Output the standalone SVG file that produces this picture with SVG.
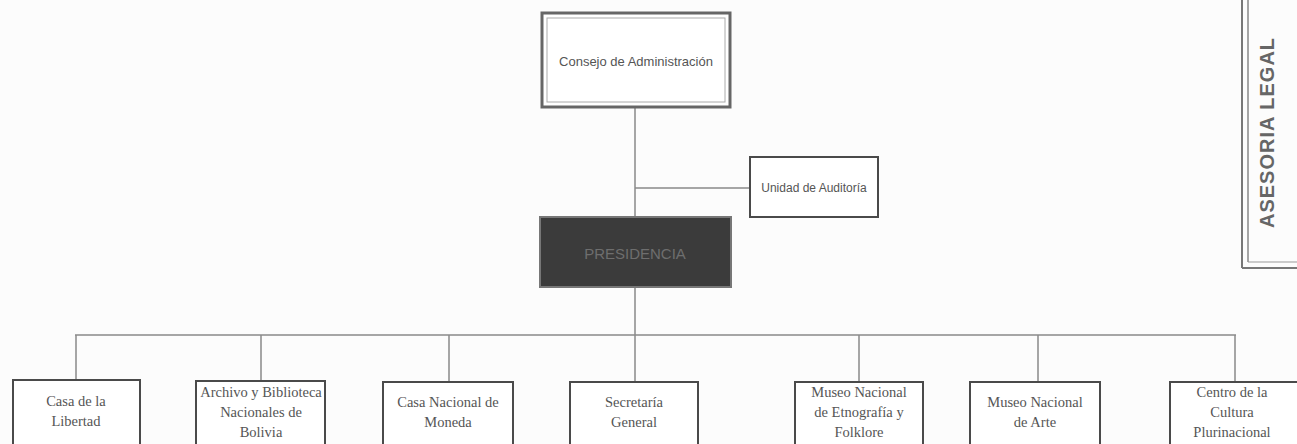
<svg xmlns="http://www.w3.org/2000/svg" width="1297" height="444" viewBox="0 0 1297 444">
<style>
.bg{fill:#fcfcfc}
.box{fill:#fff;stroke:#4a4a4a;stroke-width:2}
.dbl{fill:none;stroke:#aaa;stroke-width:1}
.ln{stroke:#8a8a8a;stroke-width:1.5;fill:none}
.ts{font-family:"Liberation Sans",Arial,sans-serif;font-size:13px;fill:#555;text-anchor:middle}
.tb{font-family:"Liberation Serif","Times New Roman",serif;font-size:14.5px;fill:#555;text-anchor:middle}
.stamp{font-family:"Liberation Sans",Arial,sans-serif;font-size:20px;font-weight:bold;fill:#666;letter-spacing:1px}
</style>
<rect class="bg" x="0" y="0" width="1297" height="444"/>
<g id="connectors">
<line class="ln" x1="635" y1="108" x2="635" y2="217"/>
<line class="ln" x1="635" y1="188" x2="750" y2="188"/>
<line class="ln" x1="635" y1="287" x2="635" y2="382"/>
<line class="ln" x1="75" y1="335" x2="1236" y2="335"/>
<line class="ln" x1="76" y1="335" x2="76" y2="380"/>
<line class="ln" x1="261" y1="335" x2="261" y2="381"/>
<line class="ln" x1="449" y1="335" x2="449" y2="382"/>
<line class="ln" x1="859" y1="335" x2="859" y2="382"/>
<line class="ln" x1="1038" y1="335" x2="1038" y2="382"/>
<line class="ln" x1="1235" y1="335" x2="1235" y2="382"/>
</g>
<g id="consejo">
<rect x="542" y="13" width="188" height="94" fill="#fff" stroke="#666" stroke-width="3"/>
<rect class="dbl" x="547" y="18" width="178" height="84"/>
<text class="ts" x="636" y="66">Consejo de Administración</text>
</g>
<g id="auditoria">
<rect class="box" x="750" y="157" width="128" height="60"/>
<text class="ts" x="814" y="192" style="font-size:12px">Unidad de Auditoría</text>
</g>
<g id="presidencia">
<rect x="540" y="217" width="191" height="70" fill="#3b3b3b" stroke="#777" stroke-width="2"/>
<text class="ts" x="635" y="259" style="fill:#6e6e6e;font-size:15px">PRESIDENCIA</text>
</g>
<g id="casa-libertad">
<rect class="box" x="13" y="380" width="127" height="70"/>
<text class="tb" x="76" y="406">Casa de la</text>
<text class="tb" x="76" y="426">Libertad</text>
</g>
<g id="archivo">
<rect class="box" x="196" y="381" width="129" height="70"/>
<text class="tb" x="261" y="397">Archivo y Biblioteca</text>
<text class="tb" x="261" y="417">Nacionales de</text>
<text class="tb" x="261" y="437">Bolivia</text>
</g>
<g id="moneda">
<rect class="box" x="383" y="382" width="130" height="70"/>
<text class="tb" x="448" y="407">Casa Nacional de</text>
<text class="tb" x="448" y="427">Moneda</text>
</g>
<g id="secretaria">
<rect class="box" x="570" y="382" width="128" height="70"/>
<text class="tb" x="634" y="407">Secretaría</text>
<text class="tb" x="634" y="427">General</text>
</g>
<g id="etnografia">
<rect class="box" x="795" y="382" width="128" height="70"/>
<text class="tb" x="859" y="397">Museo Nacional</text>
<text class="tb" x="859" y="417">de Etnografía y</text>
<text class="tb" x="859" y="437">Folklore</text>
</g>
<g id="arte">
<rect class="box" x="970" y="382" width="130" height="70"/>
<text class="tb" x="1035" y="407">Museo Nacional</text>
<text class="tb" x="1035" y="427">de Arte</text>
</g>
<g id="cultura">
<rect class="box" x="1170" y="382" width="132" height="70"/>
<text class="tb" x="1232" y="397">Centro de la</text>
<text class="tb" x="1232" y="417">Cultura</text>
<text class="tb" x="1232" y="437">Plurinacional</text>
</g>
<g id="sello">
<line x1="1242" y1="0" x2="1242" y2="268" stroke="#777" stroke-width="2"/>
<line x1="1248" y1="0" x2="1248" y2="262" stroke="#888" stroke-width="1.5"/>
<line x1="1242" y1="268" x2="1297" y2="268" stroke="#777" stroke-width="2"/>
<line x1="1248" y1="262" x2="1297" y2="262" stroke="#999" stroke-width="1"/>
<text class="stamp" transform="translate(1274,228) rotate(-90)">ASESORIA LEGAL</text>
</g>
</svg>
